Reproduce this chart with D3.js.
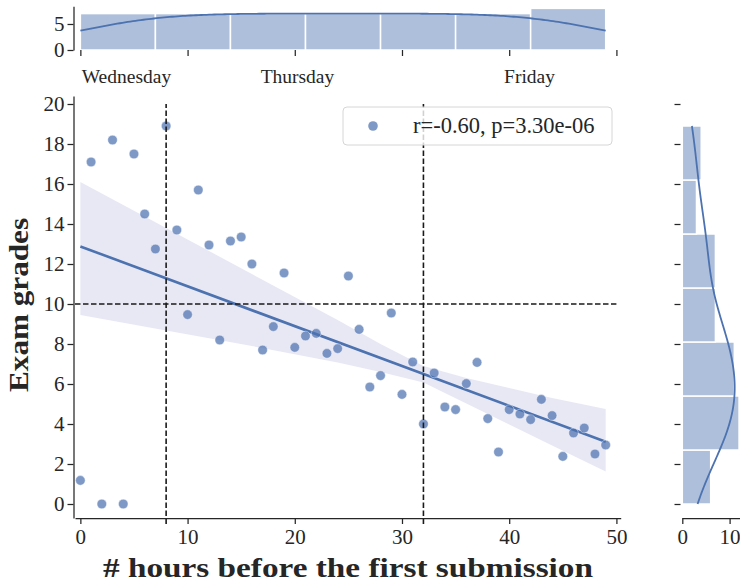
<!DOCTYPE html>
<html>
<head>
<meta charset="utf-8">
<script src="https://cdn.jsdelivr.net/npm/d3@7"></script>
<style>
body { margin: 0; background: #fff; }
text { font-family: "Liberation Serif", "Times New Roman", serif; fill: #262626; }
</style>
</head>
<body>
<div id="chart"></div>
<script>
// hours before the first submission, one student per hour
var hours = [0, 1, 2, 3, 4, 5, 6, 7, 8, 9,
    10, 11, 12, 13, 14, 15, 16, 17, 18, 19,
    20, 21, 22, 23, 24, 25, 26, 27, 28, 29,
    30, 31, 32, 33, 34, 35, 36, 37, 38, 39,
    40, 41, 42, 43, 44, 45, 46, 47, 48, 49];
var grades = [1.18, 17.1, 0, 18.2, 0, 17.5, 14.5, 12.75, 18.9, 13.7,
    9.47, 15.7, 12.95, 8.2, 13.15, 13.35, 12.0, 7.7, 8.87, 11.55,
    7.83, 8.4, 8.53, 7.53, 7.77, 11.4, 8.73, 5.85, 6.42, 9.55,
    5.48, 7.1, 4.0, 6.55, 4.85, 4.72, 6.02, 7.08, 4.27, 2.6,
    4.72, 4.5, 4.22, 5.23, 4.42, 2.38, 3.55, 3.8, 2.5, 2.95];

// confidence band of the fit
var bandHours = [0, 8, 16, 24, 28, 32, 36, 40, 44, 49];
var bandUpper = [16.1, 13.8, 11.5, 9.2, 8.0, 6.9, 6.3, 5.8, 5.3, 4.75];
var bandLower = [9.45, 8.67, 7.9, 7.07, 6.6, 6.07, 5.02, 3.97, 2.92, 1.62];

var dayLabels = ["Wednesday", "Thursday", "Friday"];
var dayPos = [4.3, 20.25, 41.9];
var xTicks = [0, 10, 20, 30, 40, 50];
var yTicks = [0, 2, 4, 6, 8, 10, 12, 14, 16, 18, 20];
var topCountTicks = [0, 5];
var rightCountTicks = [0, 10];
var cutHours = [8, 32];
var passGrade = 10;
var legendText = "r=-0.60, p=3.30e-06";

var blue = "#4c72b0";
var ink = "#262626";

var svg = d3.select("#chart")
    .append("svg")
    .attr("width", 740)
    .attr("height", 583);

var x = d3.scaleLinear().domain([-0.5, 50.4]).range([75, 620.7]);
var y = d3.scaleLinear().domain([-0.7, 20.4]).range([518, 96]);
var topY = d3.scaleLinear().domain([0, 8.4]).range([50, 6.3]);
var rightX = d3.scaleLinear().domain([0, 12.6]).range([682.3, 741.9]);

function styleAxis(g, fontSize) {
    g.selectAll(".domain").attr("stroke", ink).attr("stroke-width", 1.25);
    g.selectAll(".tick line").attr("stroke", ink).attr("stroke-width", 1.25);
    g.selectAll(".tick text")
        .attr("fill", ink)
        .style("font-family", "'Liberation Serif', serif")
        .style("font-size", fontSize + "px");
}

// gaussian kde with scott bandwidth, clipped to the data range
function kde(values, scale, steps) {
    var n = values.length;
    var bw = d3.deviation(values) * Math.pow(n, -1 / 5);
    var lo = d3.min(values), hi = d3.max(values);
    var pts = [];
    for (var i = 0; i <= steps; i++) {
        var v = lo + (hi - lo) * i / steps;
        var s = 0;
        values.forEach(function (d) {
            var z = (v - d) / bw;
            s += Math.exp(-0.5 * z * z);
        });
        pts.push([v, s / (n * bw * Math.sqrt(2 * Math.PI)) * scale]);
    }
    return pts;
}

// ---------- main panel ----------
var band = bandHours.map(function (h, i) { return [h, bandLower[i], bandUpper[i]]; });
svg.append("path")
    .datum(band)
    .attr("fill", "#e8e8f5")
    .attr("d", d3.area()
        .x(function (d) { return x(d[0]); })
        .y0(function (d) { return y(d[1]); })
        .y1(function (d) { return y(d[2]); }));

var xMean = d3.mean(hours), yMean = d3.mean(grades);
var sxy = 0, sxx = 0;
hours.forEach(function (h, i) {
    sxy += (h - xMean) * (grades[i] - yMean);
    sxx += (h - xMean) * (h - xMean);
});
var slope = sxy / sxx;
var intercept = yMean - slope * xMean;
var xExt = d3.extent(hours);

svg.append("line")
    .attr("x1", x(xExt[0])).attr("y1", y(intercept + slope * xExt[0]))
    .attr("x2", x(xExt[1])).attr("y2", y(intercept + slope * xExt[1]))
    .attr("stroke", blue)
    .attr("stroke-width", 2.6);

svg.selectAll("circle.pt")
    .data(hours)
    .enter()
    .append("circle")
    .attr("class", "pt")
    .attr("cx", function (d) { return x(d); })
    .attr("cy", function (d, i) { return y(grades[i]); })
    .attr("r", 4.8)
    .attr("fill", blue)
    .attr("fill-opacity", 0.72)
    .attr("stroke", "#fff")
    .attr("stroke-opacity", 0.6)
    .attr("stroke-width", 0.7);

svg.append("line")
    .attr("x1", x(-0.5)).attr("x2", x(50))
    .attr("y1", y(passGrade)).attr("y2", y(passGrade))
    .attr("stroke", "#1a1a1a")
    .attr("stroke-width", 1.6)
    .attr("stroke-dasharray", "5.5,2.5");

svg.selectAll("line.cut")
    .data(cutHours)
    .enter()
    .append("line")
    .attr("class", "cut")
    .attr("x1", function (d) { return x(d); })
    .attr("x2", function (d) { return x(d); })
    .attr("y1", y(-1)).attr("y2", y(20))
    .attr("stroke", "#1a1a1a")
    .attr("stroke-width", 1.6)
    .attr("stroke-dasharray", "5.5,2.5");

var xAxis = svg.append("g")
    .attr("transform", "translate(0,518)")
    .call(d3.axisBottom(x).tickValues(xTicks).tickSize(6).tickSizeOuter(0).tickPadding(5));
styleAxis(xAxis, 21);

var yAxis = svg.append("g")
    .attr("transform", "translate(73.5,0)")
    .call(d3.axisLeft(y).tickValues(yTicks).tickSize(6).tickSizeOuter(0).tickPadding(3));
styleAxis(yAxis, 21);

svg.append("text")
    .attr("x", 348)
    .attr("y", 577)
    .attr("text-anchor", "middle")
    .attr("textLength", 490)
    .attr("lengthAdjust", "spacingAndGlyphs")
    .style("font-size", "28px")
    .style("font-weight", "bold")
    .text("# hours before the first submission");

svg.append("text")
    .attr("transform", "translate(28,305) rotate(-90)")
    .attr("text-anchor", "middle")
    .attr("textLength", 174)
    .attr("lengthAdjust", "spacingAndGlyphs")
    .style("font-size", "28px")
    .style("font-weight", "bold")
    .text("Exam grades");

// legend
var lg = svg.append("g");
lg.append("rect")
    .attr("x", 343).attr("y", 107)
    .attr("width", 269).attr("height", 38)
    .attr("rx", 4)
    .attr("fill", "#fff")
    .attr("fill-opacity", 0.8)
    .attr("stroke", "#d6d6d6")
    .attr("stroke-width", 1);
lg.append("circle")
    .attr("cx", 373).attr("cy", 126)
    .attr("r", 4.8)
    .attr("fill", blue)
    .attr("fill-opacity", 0.72);
lg.append("text")
    .attr("x", 413).attr("y", 133)
    .style("font-size", "22.5px")
    .text(legendText);

// ---------- top marginal ----------
var xBinW = (xExt[1] - xExt[0]) / 7;
var xBins = d3.bin()
    .domain(xExt)
    .thresholds(d3.range(1, 7).map(function (i) { return xExt[0] + i * xBinW; }))(hours);

svg.selectAll("rect.tb")
    .data(xBins)
    .enter()
    .append("rect")
    .attr("class", "tb")
    .attr("x", function (d) { return x(d.x0); })
    .attr("y", function (d) { return topY(d.length); })
    .attr("width", function (d) { return x(d.x1) - x(d.x0); })
    .attr("height", function (d) { return topY(0) - topY(d.length); })
    .attr("fill", blue)
    .attr("fill-opacity", 0.45)
    .attr("stroke", "#fff")
    .attr("stroke-width", 1.5);

svg.append("path")
    .datum(kde(hours, hours.length * xBinW, 200))
    .attr("fill", "none")
    .attr("stroke", blue)
    .attr("stroke-width", 1.8)
    .attr("d", d3.line()
        .x(function (d) { return x(d[0]); })
        .y(function (d) { return topY(d[1]); }));

var topLeft = svg.append("g")
    .attr("transform", "translate(73.5,0)")
    .call(d3.axisLeft(topY).tickValues(topCountTicks).tickSize(6).tickSizeOuter(0).tickPadding(3));
styleAxis(topLeft, 21);

var topBottom = svg.append("g")
    .attr("transform", "translate(0,50)")
    .call(d3.axisBottom(x).tickValues(xTicks).tickSize(6).tickSizeOuter(0).tickFormat(""));
styleAxis(topBottom, 21);
topBottom.select(".domain").remove();

svg.selectAll("text.day")
    .data(dayLabels)
    .enter()
    .append("text")
    .attr("class", "day")
    .attr("x", function (d, i) { return x(dayPos[i]); })
    .attr("y", 83)
    .attr("text-anchor", "middle")
    .style("font-size", "19.5px")
    .text(function (d) { return d; });

// ---------- right marginal ----------
var yExt = d3.extent(grades);
var yBinW = (yExt[1] - yExt[0]) / 7;
var yBins = d3.bin()
    .domain(yExt)
    .thresholds(d3.range(1, 7).map(function (i) { return yExt[0] + i * yBinW; }))(grades);

svg.selectAll("rect.rb")
    .data(yBins)
    .enter()
    .append("rect")
    .attr("class", "rb")
    .attr("x", rightX(0))
    .attr("y", function (d) { return y(d.x1); })
    .attr("width", function (d) { return rightX(d.length) - rightX(0); })
    .attr("height", function (d) { return y(d.x0) - y(d.x1); })
    .attr("fill", blue)
    .attr("fill-opacity", 0.45)
    .attr("stroke", "#fff")
    .attr("stroke-width", 1.5);

svg.append("path")
    .datum(kde(grades, grades.length * yBinW, 200))
    .attr("fill", "none")
    .attr("stroke", blue)
    .attr("stroke-width", 1.8)
    .attr("d", d3.line()
        .x(function (d) { return rightX(d[1]); })
        .y(function (d) { return y(d[0]); }));

var rightLeft = svg.append("g")
    .attr("transform", "translate(680.5,0)")
    .call(d3.axisLeft(y).tickValues(yTicks).tickSize(6).tickSizeOuter(0).tickFormat(""));
styleAxis(rightLeft, 21);
rightLeft.select(".domain").remove();

var rightBottom = svg.append("g")
    .attr("transform", "translate(0,518)")
    .call(d3.axisBottom(rightX).tickValues(rightCountTicks).tickSize(6).tickSizeOuter(0).tickPadding(5));
styleAxis(rightBottom, 21);
</script>
</body>
</html>
